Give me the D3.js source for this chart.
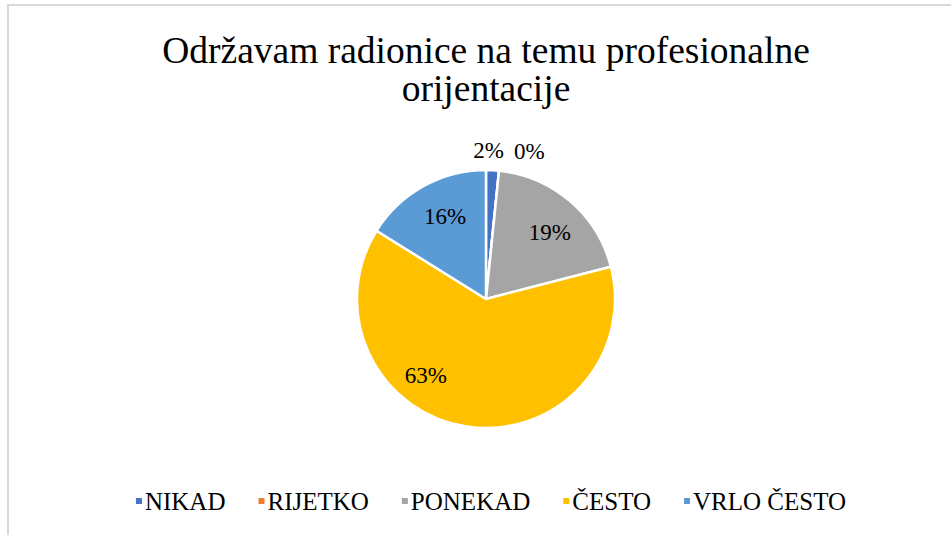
<!DOCTYPE html>
<html>
<head>
<meta charset="utf-8">
<script src="https://cdn.jsdelivr.net/npm/d3@7"></script>
<style>
  body { margin: 0; background: #fff; }
</style>
</head>
<body>
<div id="chart"></div>
<script>
const categories = ["NIKAD", "RIJETKO", "PONEKAD", "ČESTO", "VRLO ČESTO"];
const counts = [1, 0, 12, 39, 10];
const colors = ["#4472C4", "#ED7D31", "#A5A5A5", "#FFC000", "#5B9BD5"];
const titleLines = ["Održavam radionice na temu profesionalne", "orijentacije"];

const width = 951, height = 535;
const cx = 486, cy = 299, radius = 129;
const FONT = "Liberation Serif";

const svg = d3.select("#chart").append("svg")
    .attr("width", width)
    .attr("height", height);

// chart frame
svg.append("rect")
    .attr("x", 8).attr("y", 5)
    .attr("width", width + 10).attr("height", height + 10)
    .attr("fill", "none")
    .attr("stroke", "#d9d9d9")
    .attr("stroke-width", 2);

// title
svg.selectAll(".title")
    .data(titleLines)
    .enter().append("text")
    .attr("class", "title")
    .attr("x", cx)
    .attr("y", (d, i) => 63 + i * 38)
    .attr("text-anchor", "middle")
    .attr("font-family", FONT)
    .attr("font-size", 37.5)
    .text(d => d);

const total = d3.sum(counts);
const data = categories.map((c, i) => ({ name: c, value: counts[i], color: colors[i] }));

const pie = d3.pie().value(d => d.value).sort(null);
const arc = d3.arc().innerRadius(0).outerRadius(radius);
const arcs = pie(data);

const g = svg.append("g").attr("transform", `translate(${cx},${cy})`);

g.selectAll("path")
    .data(arcs)
    .enter().append("path")
    .attr("d", arc)
    .attr("fill", d => d.data.color)
    .attr("stroke", "#fff")
    .attr("stroke-width", 2.5)
    .attr("stroke-linejoin", "round");

const pct = d => Math.round(d.data.value / total * 100) + "%";

// big slices get labels inside, small ones outside (best fit)
const inner = arcs.filter(d => d.data.value / total >= 0.05);
const outer = arcs.filter(d => d.data.value / total < 0.05);

// Excel pulls the largest label towards the left
const angleShift = a => (a.data.value / total > 0.5 ? 0.52 : 0.05);
g.selectAll(".inlbl")
    .data(inner)
    .enter().append("text")
    .attr("class", "inlbl")
    .each(function (d) {
        const a = (d.startAngle + d.endAngle) / 2 + angleShift(d);
        const r = radius * (d.data.value / total > 0.5 ? 0.75 : 0.72);
        d3.select(this)
            .attr("x", Math.sin(a) * r)
            .attr("y", -Math.cos(a) * r + 8);
    })
    .attr("text-anchor", "middle")
    .attr("font-family", FONT)
    .attr("font-size", 23)
    .text(pct);

let prevRight = -Infinity;
g.selectAll(".outlbl")
    .data(outer)
    .enter().append("text")
    .attr("class", "outlbl")
    .attr("text-anchor", "middle")
    .attr("font-family", FONT)
    .attr("font-size", 23)
    .text(pct)
    .each(function (d) {
        const a = (d.startAngle + d.endAngle) / 2;
        const r = radius * 1.155;
        const w = this.getComputedTextLength();
        let x = Math.sin(a) * r - 5;
        if (x - w / 2 < prevRight + 10) x = prevRight + 10 + w / 2;
        prevRight = x + w / 2;
        d3.select(this)
            .attr("x", x)
            .attr("y", -Math.cos(a) * r + 8);
    });

// legend
const legend = svg.append("g").attr("transform", "translate(0,510)");
const items = legend.selectAll(".item")
    .data(data)
    .enter().append("g")
    .attr("class", "item");

items.append("rect")
    .attr("width", 6).attr("height", 6)
    .attr("y", -12)
    .attr("fill", d => d.color);

items.append("text")
    .attr("x", 9)
    .attr("font-family", FONT)
    .attr("font-size", 25)
    .text(d => d.name);

const gap = 33;
let lx = 0;
const xs = [];
items.each(function () {
    const w = d3.select(this).select("text").node().getComputedTextLength();
    xs.push(lx);
    lx += 9 + w + gap;
});
const totalW = lx - gap;
const start = cx + 5 - totalW / 2;
items.attr("transform", (d, i) => `translate(${start + xs[i]},0)`);
</script>
</body>
</html>
